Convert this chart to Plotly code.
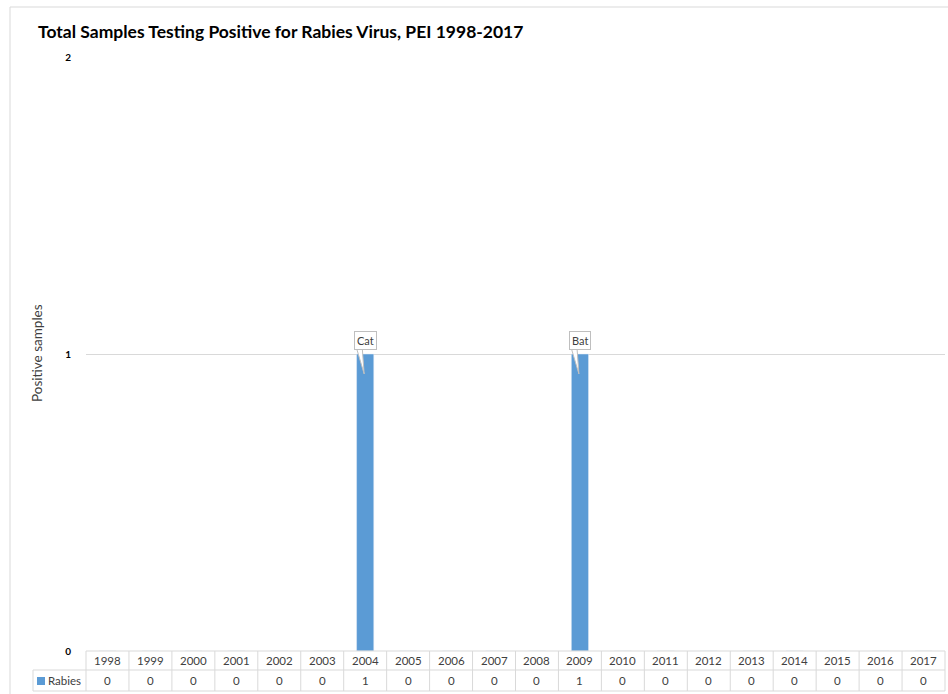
import plotly.graph_objects as go

years = [str(y) for y in range(1998, 2018)]
rabies = [0, 0, 0, 0, 0, 0, 1, 0, 0, 0, 0, 1, 0, 0, 0, 0, 0, 0, 0, 0]
callout_years = ["2004", "2009"]
callout_labels = ["Cat", "Bat"]
series_name = "Rabies"
title_text = "Total Samples Testing Positive for Rabies Virus, PEI 1998-2017"
y_title = "Positive samples"
y_ticks = [0, 1, 2]

BLUE = "#5b9bd5"
GRID = "#d9d9d9"
TXT = "#404040"
FONT = "Lato"

W, H = 948, 694
L, R, T, B = 86, 3, 57, 43
pw, ph = W - L - R, H - T - B

def px_x(p):
    return (p - L) / pw

def px_y(p):
    return (H - B - p) / ph

fig = go.Figure()
fig.add_trace(go.Bar(x=list(range(len(years))), y=rabies, marker_color=BLUE, width=0.4,
                     name=series_name, showlegend=False))

shapes = []
annotations = []

# outer chart frame (light grey)
shapes.append(dict(type="rect", xref="paper", yref="paper",
                   x0=px_x(10), x1=px_x(960), y0=px_y(710), y1=px_y(7),
                   line=dict(color="#d9d9d9", width=1), layer="below"))

# data table grid
n = len(years)
row0, row1, row2 = px_y(651), px_y(670), px_y(691)
for i in range(n + 1):
    shapes.append(dict(type="line", xref="paper", yref="paper",
                       x0=i / n, x1=i / n, y0=row2, y1=row0,
                       line=dict(color=GRID, width=1)))
for yy in (row0, row1, row2):
    shapes.append(dict(type="line", xref="paper", yref="paper",
                       x0=0 if yy == row0 else px_x(33), x1=1, y0=yy, y1=yy,
                       line=dict(color=GRID, width=1)))
shapes.append(dict(type="line", xref="paper", yref="paper",
                   x0=px_x(33), x1=px_x(33), y0=row2, y1=row1,
                   line=dict(color=GRID, width=1)))
# legend key
shapes.append(dict(type="rect", xref="paper", yref="paper",
                   x0=px_x(37), x1=px_x(45), y0=px_y(685), y1=px_y(677),
                   line=dict(width=0), fillcolor=BLUE))
annotations.append(dict(text=series_name, xref="paper", yref="paper",
                        x=px_x(46), y=(row1 + row2) / 2, xanchor="left", yanchor="middle",
                        showarrow=False, font=dict(family=FONT, size=11.5, color=TXT)))

for i, (yr, v) in enumerate(zip(years, rabies)):
    cx = (i + 0.5) / n
    annotations.append(dict(text=yr, xref="paper", yref="paper", x=cx, y=(row0 + row1) / 2,
                            xanchor="center", yanchor="middle", showarrow=False,
                            font=dict(family=FONT, size=11.5, color=TXT)))
    annotations.append(dict(text=str(v), xref="paper", yref="paper", x=cx, y=(row1 + row2) / 2,
                            xanchor="center", yanchor="middle", showarrow=False,
                            font=dict(family=FONT, size=11.5, color=TXT)))

# callouts (box + wedge tail)
for yr, lab in zip(callout_years, callout_labels):
    idx = years.index(yr)
    v = rabies[idx]
    shapes.append(dict(type="path", xref="x", yref="y", xsizemode="pixel", ysizemode="pixel",
                       xanchor=idx, yanchor=v, path="M -9,7 L -1,-20 L -3,7 Z",
                       fillcolor="white", line=dict(color="#bfbfbf", width=1), layer="above"))
    annotations.append(dict(text=lab, x=idx, y=v, xref="x", yref="y",
                            xanchor="center", yanchor="bottom", yshift=4, showarrow=False,
                            bgcolor="white", bordercolor="#bfbfbf",
                            borderwidth=1, borderpad=2,
                            font=dict(family=FONT, size=11, color=TXT)))

# title
annotations.append(dict(text="<b>" + title_text + "</b>", xref="paper", yref="paper",
                        x=px_x(36), y=px_y(31), xanchor="left", yanchor="middle",
                        showarrow=False, font=dict(family=FONT, size=17.5, color="#000000")))
# y-axis title
annotations.append(dict(text=y_title, xref="paper", yref="paper",
                        x=px_x(37), y=px_y(353), xanchor="center", yanchor="middle",
                        textangle=-90, showarrow=False,
                        font=dict(family=FONT, size=13.5, color=TXT)))

fig.update_layout(
    width=W, height=H,
    margin=dict(l=L, r=R, t=T, b=B),
    paper_bgcolor="white", plot_bgcolor="white",
    shapes=shapes, annotations=annotations,
    xaxis=dict(showticklabels=False, showgrid=False, zeroline=False, showline=False,
               range=[-0.5, n - 0.5]),
    yaxis=dict(range=[0, 2], tickvals=y_ticks, ticktext=["<b>%d</b>" % t for t in y_ticks],
               showgrid=True, gridcolor=GRID, gridwidth=1, zeroline=False,
               showline=False, ticks="", ticklabelstandoff=14,
               tickfont=dict(family=FONT, size=10, color="#000000")),
)

fig.write_html("out.html")
